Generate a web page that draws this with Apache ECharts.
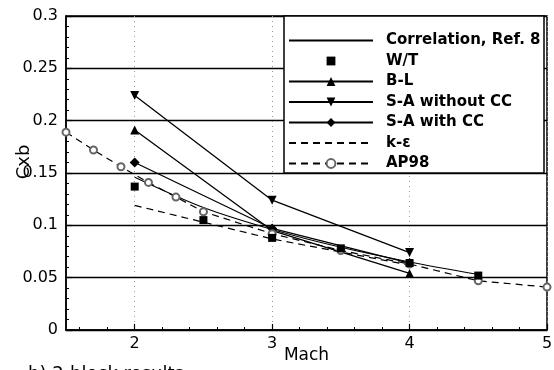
<!DOCTYPE html>
<html>
<head>
<meta charset="utf-8">
<script src="https://cdn.jsdelivr.net/npm/echarts@6/dist/echarts.min.js"></script>
<style>
  html, body { margin: 0; padding: 0; background: #fff; }
  #chart { width: 554px; height: 370px; }
</style>
</head>
<body>
<div id="chart"></div>
<script>
// values
const machCorr = [2, 2.5, 3, 3.5, 4, 4.5];
const cxbCorr = [0.146, 0.117, 0.096, 0.079, 0.065, 0.053];

const machWT = [2, 2.5, 3, 3.5, 4, 4.5];
const cxbWT = [0.137, 0.105, 0.088, 0.078, 0.064, 0.052];

const machCFD = [2, 3, 4];
const cxbBL = [0.191, 0.095, 0.054];
const cxbSAnoCC = [0.224, 0.124, 0.074];
const cxbSAcc = [0.160, 0.097, 0.064];
const cxbKE = [0.119, 0.087, 0.062];

const machAP = [1.5, 1.7, 1.9, 2.1, 2.3, 2.5, 3, 3.5, 4, 4.5, 5];
const cxbAP = [0.189, 0.172, 0.156, 0.141, 0.127, 0.113, 0.092, 0.076, 0.063, 0.047, 0.041];

const xMajor = [2, 3, 4, 5];
const xMinor = [1.6, 1.8, 2.2, 2.4, 2.6, 2.8, 3.2, 3.4, 3.6, 3.8, 4.2, 4.4, 4.6, 4.8];

const zip = (xs, ys) => xs.map((x, i) => [x, ys[i]]);

const chart = echarts.init(document.getElementById('chart'));

const font = 'DejaVu Sans';
const black = '#000';

const lineSeries = (name, xs, ys, extra) => Object.assign({
    name: name,
    type: 'line',
    data: zip(xs, ys),
    symbol: 'none',
    lineStyle: { color: black, width: 1.3 },
    itemStyle: { color: black },
    animation: false
}, extra);

const option = {
    animation: false,
    grid: { left: 66, right: 7, top: 16, bottom: 40, show: true, borderColor: black, borderWidth: 1.5, outerBoundsMode: 'none' },
    xAxis: [{
        type: 'value',
        min: 1.5,
        max: 5,
        name: 'Mach',
        nameLocation: 'middle',
        nameGap: 17,
        nameMoveOverlap: false,
        nameTextStyle: { color: black, fontFamily: font, fontSize: 17, verticalAlign: 'top' },
        axisLine: { lineStyle: { color: black, width: 1.5 } },
        axisTick: { inside: true, length: 6, customValues: xMajor, lineStyle: { color: black, width: 1.2 } },
        axisLabel: { customValues: xMajor, color: black, fontFamily: font, fontSize: 16, margin: 6, showMaxLabel: true },
        splitLine: { show: true, lineStyle: { color: '#999', width: 1, type: [1, 4] } }
    }, {
        type: 'value',
        min: 1.5,
        max: 5,
        position: 'bottom',
        axisLine: { show: false },
        axisTick: { inside: true, length: 3, customValues: xMinor, lineStyle: { color: black, width: 1 } },
        axisLabel: { show: false },
        splitLine: { show: false }
    }],
    yAxis: {
        type: 'value',
        min: 0,
        max: 0.3,
        interval: 0.05,
        name: 'Cxb',
        nameLocation: 'middle',
        nameGap: 33,
        nameMoveOverlap: false,
        nameTextStyle: { color: black, fontFamily: font, fontSize: 18, padding: [0, 0, 0, 22] },
        axisLine: { show: true, lineStyle: { color: black, width: 1.5 } },
        axisTick: { show: true, inside: true, length: 6, lineStyle: { color: black, width: 1.2 } },
        minorTick: { show: true, splitNumber: 5, length: 3, lineStyle: { color: black, width: 1 } },
        axisLabel: {
            color: black, fontFamily: font, fontSize: 16, margin: 8,
            formatter: v => String(+v.toFixed(2))
        },
        splitLine: { show: true, lineStyle: { color: black, width: 1.3 } }
    },
    legend: {
        orient: 'vertical',
        left: 288,
        top: 33,
        itemWidth: 84,
        itemHeight: 11,
        itemGap: 5.5,
        padding: 0,
        textStyle: { color: black, fontFamily: font, fontSize: 15, fontWeight: 'bold', padding: [0, 0, 0, 8] },
        z: 10,
        data: [
            { name: 'Correlation, Ref. 8', itemStyle: { opacity: 0 } },
            'W/T',
            'B-L',
            'S-A without CC',
            'S-A with CC',
            { name: 'k-\u03b5', itemStyle: { opacity: 0 } },
            'AP98'
        ]
    },
    graphic: [{
        type: 'rect',
        z: 5,
        shape: { x: 284, y: 16, width: 260, height: 157 },
        style: { fill: '#fff', stroke: black, lineWidth: 1.5 }
    }, {
        type: 'text',
        left: 28,
        top: 365,
        style: { text: 'b) 2-block results', fill: black, font: '18px "DejaVu Sans"' }
    }],
    series: [
        lineSeries('Correlation, Ref. 8', machCorr, cxbCorr, { smooth: 0.3, lineStyle: { color: black, width: 1.1 } }),
        lineSeries('W/T', machWT, cxbWT, {
            symbol: 'rect', symbolSize: 8, z: 4,
            lineStyle: { opacity: 0, width: 0 }
        }),
        lineSeries('B-L', machCFD, cxbBL, { symbol: 'triangle', symbolSize: 9 }),
        lineSeries('S-A without CC', machCFD, cxbSAnoCC, { symbol: 'triangle', symbolRotate: 180, symbolSize: 9 }),
        lineSeries('S-A with CC', machCFD, cxbSAcc, { symbol: 'diamond', symbolSize: 10 }),
        lineSeries('k-\u03b5', machCFD, cxbKE, { lineStyle: { color: black, width: 1.2, type: [7, 5] } }),
        lineSeries('AP98', machAP, cxbAP, {
            symbol: 'emptyCircle', symbolSize: 7,
            itemStyle: { color: '#666', borderWidth: 0.8 },
            lineStyle: { color: black, width: 1.2, type: [7, 5] }
        })
    ]
};

chart.setOption(option);
</script>
</body>
</html>
